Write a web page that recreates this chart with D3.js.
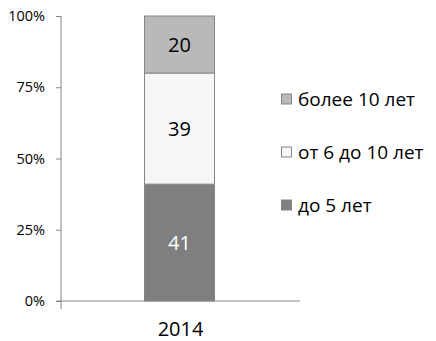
<!DOCTYPE html>
<html>
<head>
<meta charset="utf-8">
<script src="https://cdn.jsdelivr.net/npm/d3@7"></script>
<style>
  html, body { margin: 0; padding: 0; background: #fff; }
  svg text { font-family: "Open Sans", "Liberation Sans", sans-serif; }
</style>
</head>
<body>
<svg id="chart" width="436" height="341"></svg>
<script>
// Stacked shares (%) by length of time, one column per year
const years = ["2014"];
const seriesNames = ["до 5 лет", "от 6 до 10 лет", "более 10 лет"];
const seriesValues = [[41], [39], [20]];
const seriesColors = ["#7f7f7f", "#f6f6f6", "#b9b9b9"];
const labelColors = ["#ffffff", "#000000", "#000000"];
const yTicks = [0, 25, 50, 75, 100];

const svg = d3.select("#chart");
const plot = { left: 61, right: 300, top: 16, bottom: 301 };

const x = d3.scaleBand().domain(years).range([plot.left, plot.right]).paddingInner(0).paddingOuter(0.35);
const y = d3.scaleLinear().domain([0, 100]).range([plot.bottom, plot.top]);

// Rows for stacking
const rows = years.map((yr, i) => {
  const r = { year: yr };
  seriesNames.forEach((s, k) => r[s] = seriesValues[k][i]);
  return r;
});
const stacked = d3.stack().keys(seriesNames)(rows);

// Axes
const yAxis = d3.axisLeft(y).tickValues(yTicks).tickFormat(d => d + "%").tickSize(4).tickPadding(12);
const gy = svg.append("g").attr("transform", `translate(${plot.left},0)`).call(yAxis);
gy.select(".domain").attr("stroke", "#868686").attr("d", `M0,${plot.top}V${plot.bottom + 8}`);
gy.selectAll(".tick line").attr("stroke", "#868686").attr("x1", -5).attr("x2", 0);
gy.selectAll(".tick text").attr("font-size", 14.5).attr("fill", "#000");

const xAxis = d3.axisBottom(x).tickSize(0).tickPadding(21);
const gx = svg.append("g").attr("transform", `translate(0,${plot.bottom})`).call(xAxis);
gx.select(".domain").attr("stroke", "#868686").attr("d", `M${plot.left - 4},0H${plot.right}`);
gx.selectAll(".tick text").attr("font-size", 20).attr("fill", "#000");

// Bars
const bw = 70;
stacked.forEach((layer, k) => {
  const g = svg.append("g");
  g.selectAll("rect").data(layer).join("rect")
    .attr("x", d => x(d.data.year) + x.bandwidth() / 2 - bw / 2 - 1)
    .attr("width", bw)
    .attr("y", d => y(d[1]))
    .attr("height", d => y(d[0]) - y(d[1]))
    .attr("fill", seriesColors[k])
    .attr("stroke", "#868686")
    .attr("stroke-width", 1);
  g.selectAll("text").data(layer).join("text")
    .attr("x", d => x(d.data.year) + x.bandwidth() / 2 - 1)
    .attr("y", d => (y(d[0]) + y(d[1])) / 2)
    .attr("dy", "0.36em")
    .attr("text-anchor", "middle")
    .attr("font-size", 20)
    .attr("fill", labelColors[k])
    .text(d => d[1] - d[0]);
});

// Legend (top entry = last series)
const legendOrder = seriesNames.map((s, k) => k).reverse();
const legend = svg.append("g").attr("transform", "translate(281,0)");
legendOrder.forEach((k, i) => {
  const cy = 99 + i * 53;
  legend.append("rect")
    .attr("x", 0.5).attr("y", cy - 5).attr("width", 10).attr("height", 10)
    .attr("fill", seriesColors[k]).attr("stroke", "#868686");
  legend.append("text")
    .attr("x", 17).attr("y", cy).attr("dy", "0.36em")
    .attr("font-size", 19).attr("fill", "#000")
    .text(seriesNames[k]);
});
</script>
</body>
</html>
